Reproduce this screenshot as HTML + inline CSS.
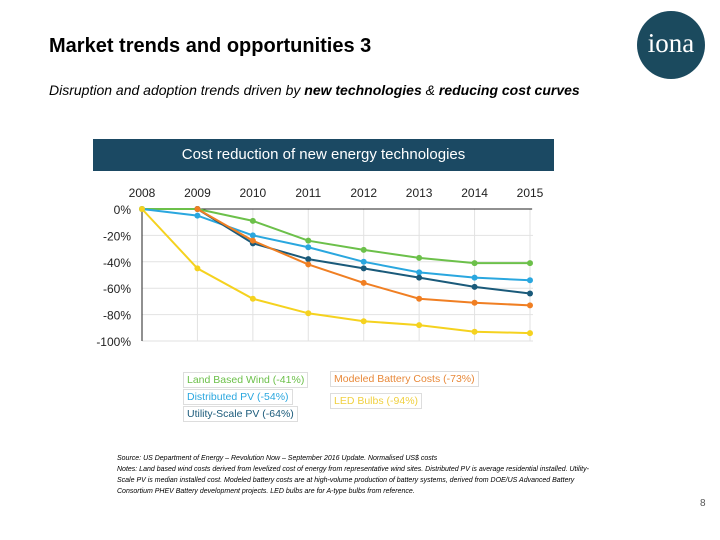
<!DOCTYPE html>
<html><head><meta charset="utf-8"><style>
body{margin:0;width:720px;height:540px;background:#fff;font-family:"Liberation Sans",sans-serif;position:relative;overflow:hidden}
.abs{position:absolute}
.leg{position:absolute;font-size:10.5px;border:1px solid #ddd;padding:1px 3px;background:#fff;white-space:nowrap}
</style></head><body>
<div class="abs" style="left:49px;top:35px;font-size:20px;font-weight:bold;color:#000">Market trends and opportunities 3</div>
<div class="abs" style="left:49px;top:82px;font-size:14px;font-style:italic;color:#000">Disruption and adoption trends driven by <b>new technologies</b> &amp; <b>reducing cost curves</b></div>
<div class="abs" style="left:637px;top:11px;width:68px;height:68px;border-radius:50%;background:#1b4a5e;color:#fff;font-family:'Liberation Serif',serif;font-size:27px;text-align:center;line-height:64px">iona</div>
<div class="abs" style="left:93px;top:139px;width:461px;height:32px;background:#1b4963;color:#fff;font-size:15px;text-align:center;line-height:32px">Cost reduction of new energy technologies</div>
<svg class="abs" style="left:0;top:0" width="720" height="540" id="chart"></svg>
<div class="leg" style="left:183px;top:372px;color:#6cc04a">Land Based Wind (-41%)</div>
<div class="leg" style="left:183px;top:389px;color:#2aa7df">Distributed PV (-54%)</div>
<div class="leg" style="left:183px;top:406px;color:#1a5a7a">Utility-Scale PV (-64%)</div>
<div class="leg" style="left:330px;top:371px;color:#e8893a">Modeled Battery Costs (-73%)</div>
<div class="leg" style="left:330px;top:393px;color:#f0d040">LED Bulbs (-94%)</div>
<div class="abs" style="left:117px;top:453px;font-size:7px;font-style:italic;color:#000;width:480px;line-height:11px">Source: US Department of Energy – Revolution Now – September 2016 Update. Normalised US$ costs<br>Notes: Land based wind costs derived from levelized cost of energy from representative wind sites. Distributed PV is average residential installed. Utility-Scale PV is median installed cost. Modeled battery costs are at high-volume production of battery systems, derived from DOE/US Advanced Battery Consortium PHEV Battery development projects. LED bulbs are for A-type bulbs from reference.</div>
<div class="abs" style="left:700px;top:498px;font-size:10px;color:#555">8</div>
<script>
const years=["2008","2009","2010","2011","2012","2013","2014","2015"];
const yTicks=[0,-20,-40,-60,-80,-100];
const wind=[0,0,-9,-24,-31,-37,-41,-41];
const distPV=[0,-5,-20,-29,-40,-48,-52,-54];
const utilPV=[null,0,-26,-38,-45,-52,-59,-64];
const battery=[null,0,-24,-42,-56,-68,-71,-73];
const led=[0,-45,-68,-79,-85,-88,-93,-94];
const svg=document.getElementById('chart');const NS='http://www.w3.org/2000/svg';
const x=i=>142+i*(530-142)/(years.length-1);
const y=v=>209-(v/100)*132;
function mk(t,a){const e=document.createElementNS(NS,t);for(const k in a)e.setAttribute(k,a[k]);svg.appendChild(e);return e;}
yTicks.forEach(v=>{const g=mk('line',{x1:142,x2:533,y1:y(v),y2:y(v),stroke:'#e2e2e2'});


const t=mk('text',{x:131,y:y(v)+5,'text-anchor':'end','font-size':12,fill:'#222','font-family':'Liberation Sans'});t.textContent=v+'%';

});
years.forEach((yr,i)=>{const g=mk('line',{x1:x(i),x2:x(i),y1:209,y2:341,stroke:'#e2e2e2'});


const t=mk('text',{x:x(i),y:197,'text-anchor':'middle','font-size':12,fill:'#222','font-family':'Liberation Sans'});t.textContent=yr;

});
const ax=mk('line',{x1:142,x2:532,y1:209,y2:209,stroke:'#222','stroke-width':1});


const ay=mk('line',{x1:142,x2:142,y1:209,y2:341,stroke:'#222','stroke-width':1});


const series=[[wind,'#6cc04a','series-land-based-wind'],[distPV,'#2aa7df','series-distributed-pv'],[utilPV,'#1a5a7a','series-utility-scale-pv'],[battery,'#f07f23','series-battery'],[led,'#f5d21f','series-led']];
series.forEach(([d,c,n])=>{const pts=[];d.forEach((v,i)=>{if(v!==null)pts.push(x(i)+','+y(v));});
const p=mk('polyline',{points:pts.join(' '),fill:'none',stroke:c,'stroke-width':2});


d.forEach((v,i)=>{if(v===null)return;const m=mk('circle',{cx:x(i),cy:y(v),r:3,fill:c});

});});
</script>
</body></html>
